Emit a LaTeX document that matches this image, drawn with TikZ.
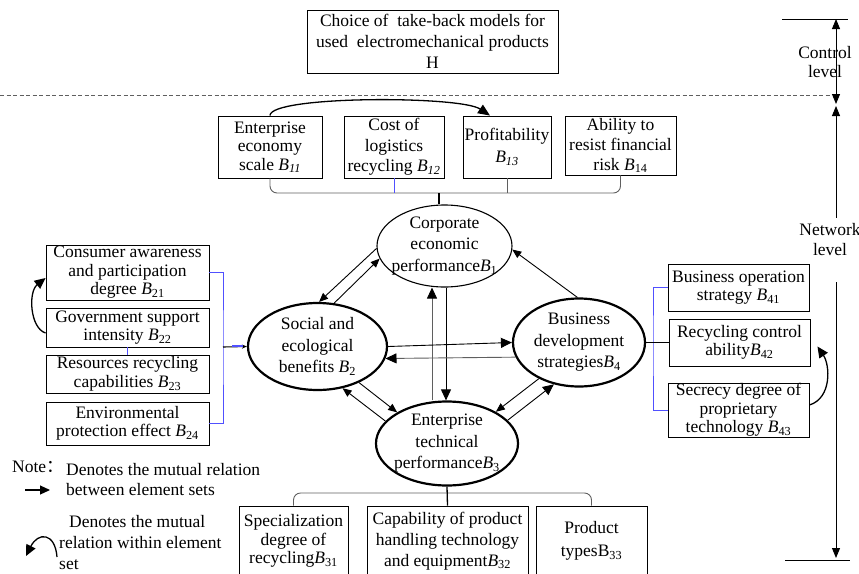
\documentclass[tikz,border=0pt]{standalone}
\usepackage{fontspec}
\setmainfont{Liberation Serif}
\newfontfamily\cjkfont{Noto Sans CJK SC}
\usetikzlibrary{shapes.geometric,arrows.meta}
\newcommand{\Bi}[1]{\textit{B}\textsubscript{#1}}
\newcommand{\Bii}[1]{\textit{B\textsubscript{#1}}}
\definecolor{blueln}{RGB}{80,80,255}
\definecolor{grayln}{RGB}{95,95,95}
\begin{document}
\begin{tikzpicture}[x=1pt,y=-1pt,
  every node/.style={font=\fontsize{17.5}{18.5}\selectfont},
  box/.style={draw, rectangle, inner sep=0pt, align=center, line width=0.9pt},
  ell/.style={draw, ellipse, inner sep=0pt, line width=2.2pt},
  thinell/.style={draw, ellipse, inner sep=0pt, line width=1.1pt},
  ltext/.style={align=center, inner sep=0pt, font=\fontsize{17.5}{21.5}\selectfont},
  big/.style={line width=0.9pt, -{Triangle[length=11pt,width=10pt,color=black]}},
  small/.style={line width=0.9pt, -{Triangle[length=9pt,width=7.5pt]}},
  brk/.style={line width=0.9pt, grayln, rounded corners=7pt},
  bl/.style={line width=0.9pt, blueln}]
\useasboundingbox (0,0) rectangle (859,573);

% control level box
\node[box, minimum width=251pt, minimum height=63pt, font=\fontsize{17.5}{21}\selectfont] (h) at (432.5,41.5)
  {Choice of \ take-back models for\\used \ electromechanical products\\H};
\draw[dashed, grayln, line width=0.8pt, dash pattern=on 4pt off 2.5pt] (0,95) -- (830,95);

% B1 elements
\node[box, minimum width=104pt, minimum height=62pt] (b11) at (270,147) {Enterprise\\economy\\scale \Bii{11}};
\node[box, minimum width=100pt, minimum height=62pt, font=\fontsize{17.5}{20.5}\selectfont] (b12) at (394,147) {Cost of\\logistics\\recycling \Bii{12}};
\node[box, minimum width=88pt, minimum height=62pt, font=\fontsize{17.5}{22}\selectfont] (b13) at (507,147) {Profitability\\\Bii{13}};
\node[box, minimum width=111pt, minimum height=59pt, font=\fontsize{17.5}{20}\selectfont] (b14) at (620.5,145.5) {Ability to\\resist financial\\risk \Bi{14}};

% ellipses
\node[thinell, minimum width=135pt, minimum height=82pt,
  label={[ltext]center:Corporate\\economic\\performance\Bi{1}}] (b1) at (444.5,246) {};
\node[ell, minimum width=139pt, minimum height=87pt,
  label={[ltext]center:Social and\\ecological\\benefits \Bi{2}}] (b2) at (317.5,346.5) {};
\node[ell, minimum width=142pt, minimum height=84pt,
  label={[ltext]center:Enterprise\\technical\\performance\Bi{3}}] (b3) at (447,443.5) {};
\node[ell, minimum width=132pt, minimum height=88pt,
  label={[ltext]center:Business\\development\\strategies\Bi{4}}] (b4) at (579,342.5) {};

% top bracket
\coordinate (tb) at (439,193);
\draw[brk] (b11.south) |- (tb) -| (b14.south);
\draw[bl] (b12.south) -- (b12.south |- tb);
\draw[line width=0.9pt, grayln] (b13.south) -- (b13.south |- tb);
\draw[line width=1.1pt] (tb) -- (tb |- b1.north);
\draw[line width=1.3pt, -{Triangle[length=12pt,width=10pt]}] (b11.north) .. controls +(0,-20) and +(-30,-20) .. ([xshift=-17pt]b13.north);

% left group
\node[box, minimum width=163pt, minimum height=55pt] (b21) at (127.5,272.5) {Consumer awareness\\and participation\\degree \Bi{21}};
\node[box, minimum width=163pt, minimum height=39pt] (b22) at (127.5,327.5) {Government support\\intensity \Bi{22}};
\node[box, minimum width=163pt, minimum height=38pt] (b23) at (127.5,374) {Resources recycling\\capabilities \Bi{23}};
\node[box, minimum width=163pt, minimum height=43pt] (b24) at (127.5,423.5) {Environmental\\protection effect \Bi{24}};
\coordinate (lb) at (223,347);
\draw[bl] (b21.east) -| (lb) |- (b24.east);
\draw[bl] (b22.south) -- (b23.north);
\draw[line width=1.1pt, -{Stealth[length=5pt,width=4pt]}] (lb) -- (b2.west);
\draw[blueln, line width=2pt] (232,346) -- (243,346);
\draw[line width=1.3pt, -{Triangle[length=11pt,width=10pt]}] ([yshift=-5.5pt]b22.west) .. controls (30,328) and (28,292) .. ([yshift=-5.5pt]b21.west);

% right group
\node[box, minimum width=141pt, minimum height=47pt] (b41) at (738.5,287.5) {Business operation\\strategy \Bi{41}};
\node[box, minimum width=141pt, minimum height=47pt] (b42) at (739.5,342.5) {Recycling control\\ability\Bi{42}};
\node[box, minimum width=141pt, minimum height=54pt] (b43) at (738.5,410) {Secrecy degree of\\proprietary\\technology \Bi{43}};
\coordinate (rb) at (653,342.5);
\draw[bl] (b41.west) -| (rb) |- (b43.west);
\draw[line width=1.1pt] (b4.east) -- (b42.west);
\draw[line width=1.3pt, -{Triangle[length=11pt,width=10pt]}] ([yshift=5pt]b43.east) .. controls (832,398) and (830,365) .. ([xshift=7pt,yshift=-4pt]b42.east);

% bottom group
\node[box, minimum width=109pt, minimum height=70pt] (b31) at (293.5,541) {Specialization\\degree of\\recycling\Bi{31}};
\node[box, minimum width=161pt, minimum height=70pt, font=\fontsize{17.5}{21}\selectfont] (b32) at (447.5,541) {Capability of product\\handling technology\\and equipment\Bi{32}};
\node[box, minimum width=111pt, minimum height=70pt, font=\fontsize{17.5}{23}\selectfont] (b33) at (591.5,541) {Product\\typesB\textsubscript{33}};
\coordinate (bb) at (447,493);
\draw[brk] (b31.north) |- (bb) -| (b33.north);
\draw[line width=1.3pt] (b3.south) -- (b32.north);

% arrows among the sets
\draw[small] (b1.182) -- (b2.88);
\draw[small] (b2.69) -- (b1.191);
\draw[small] (b4.92) -- (b1.357);
\draw[big, grayln] ([xshift=-15pt]b3.north) -- ([xshift=-15pt]b3.north |- b1.south);
\draw[big] ([xshift=1.5pt]b1.south) -- ([xshift=1.5pt]b1.south |- b3.north);
\draw[big] (b2.east) -- (b4.west);
\draw[big, grayln] (b4.193) -- (b2.350);
\draw[small] (b2.319) -- (b3.148);
\draw[small] (b3.160) -- (b2.301);
\draw[small] (b4.222) -- (b3.33);
\draw[big] (b3.21) -- (b4.239);

% level markers
\coordinate (ct) at (836,19);
\coordinate (cb) at (836,104);
\coordinate (nt) at (836,106);
\coordinate (nm1) at (836,218);
\coordinate (nm2) at (836,282);
\coordinate (nb) at (836,558);
\draw[line width=0.8pt] (782,19) -- (848,19);
\draw[line width=0.8pt] (785,560) -- (850,560);
\draw[line width=0.9pt, {Triangle[length=10pt,width=8pt]}-{Triangle[length=10pt,width=8pt]}] (ct) -- (cb);
\draw[line width=0.9pt, {Triangle[length=10pt,width=8pt]}-] (nt) -- (nm1);
\draw[line width=0.9pt, -{Triangle[length=10pt,width=8pt]}] (nm2) -- (nb);
\node[align=center, inner sep=0pt] (ctl) at (825,62) {Control\\level};
\node[align=center, inner sep=0pt, font=\fontsize{17.5}{20}\selectfont] (nwl) at (830,240) {Network\\level};

% note
\node[anchor=west, inner sep=0pt] (note) at (12,467) {Note{\cjkfont ：}};
\node[anchor=west, align=left, inner sep=0pt, font=\fontsize{17.5}{20}\selectfont] (n1) at (66,480) {Denotes the mutual relation\\between element sets};
\coordinate (a1s) at (25,490);
\coordinate (a1e) at (50,490);
\draw[line width=1.1pt, -{Triangle[length=10pt,width=9pt]}] (a1s) -- (a1e);
\node[anchor=west, align=left, inner sep=0pt, font=\fontsize{17.5}{21}\selectfont] (n2) at (59,543) {\hspace*{10pt}Denotes the mutual\\relation within element\\set};
\coordinate (a2s) at (57,557);
\coordinate (a2e) at (26,556);
\draw[line width=1.3pt, -{Triangle[length=11pt,width=10pt]}] (a2s) .. controls (55,532) and (38,532) .. (a2e);
\end{tikzpicture}
\end{document}
